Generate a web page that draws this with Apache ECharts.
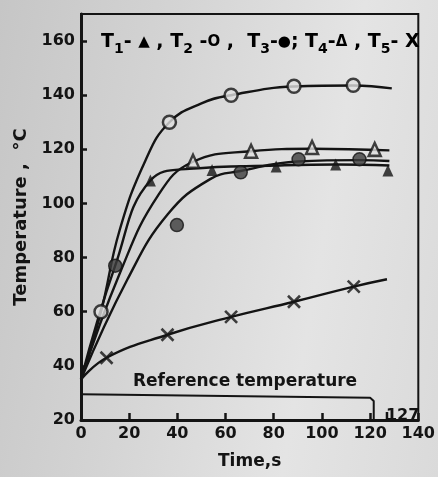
<!DOCTYPE html>
<html>
<head>
<meta charset="utf-8">
<script src="https://cdn.jsdelivr.net/npm/echarts@6/dist/echarts.min.js"></script>
<style>
  html, body { margin: 0; padding: 0; background: #d6d6d6; }
  #chart {
    width: 438px; height: 477px;
    background: linear-gradient(100deg, #c6c6c6 0%, #d4d4d4 35%, #e4e4e4 70%, #dadada 100%);
  }
</style>
</head>
<body>
<div id="chart"></div>
<script>
// Axis tick values
const timeTicks = [0, 20, 40, 60, 80, 100, 120, 140];
const tempTicks = [20, 40, 60, 80, 100, 120, 140, 160];
const tempTop = 170;
const cutoffTime = 127;

// Measured points, [time s, temperature °C]
const t1Points = [[28.8, 108.5], [54.4, 112.4], [81, 113.7], [105.7, 114.4], [127.4, 112.2]];
const t2Points = [[8.3, 60], [36.7, 130], [62.3, 140], [88.4, 143.3], [113, 143.7]];
const t3Points = [[14.2, 77], [39.8, 92], [66.3, 111.5], [90.3, 116.3], [115.6, 116.3]];
const t4Points = [[46.5, 115.6], [70.6, 119.3], [95.9, 120.7], [121.9, 120]];
const t5Points = [[10.6, 43], [35.9, 51.5], [62.3, 58.1], [88.4, 63.7], [113.2, 69.3]];

// Hand-drawn fitted curves
const t1Curve = [[0, 35], [14.2, 77], [28.8, 108.5], [45, 112.8], [81, 114], [106, 114.4], [128, 114]];
const t2Curve = [[0, 35], [8.3, 60], [16, 90], [26.8, 116], [36.7, 130], [50, 137], [62.3, 140],
                 [88.4, 143.2], [113, 143.6], [129, 142.5]];
const t3Curve = [[0, 35], [19.3, 72], [36, 96], [53.6, 109], [66.3, 112], [90, 115.5], [115.6, 116], [128, 115.7]];
const t4Curve = [[0, 35], [16.2, 74.4], [32, 103], [46.5, 115.4], [70.6, 119.3], [96, 120.2], [128, 119.6]];
const t5Curve = [[0, 35], [10.6, 43], [35.9, 51.5], [62.3, 58.1], [88.4, 63.7], [113.2, 69.3], [127, 72]];
const referenceLine = [[0, 29.5], [120, 28.2], [121.5, 27], [121.5, 20]];

const ink = '#141414';
const paper = '#e0e0e0';
const font = 'DejaVu Sans, sans-serif';

function curve(name, data) {
  return {
    name: name, type: 'line', data: data, smooth: 0.45,
    showSymbol: false, silent: true, z: 2,
    lineStyle: { color: ink, width: 2.4 }
  };
}
function marks(name, data, symbol, size, style) {
  return {
    name: name, type: 'scatter', data: data, symbol: symbol, symbolSize: size,
    z: 5, itemStyle: style
  };
}

const chart = echarts.init(document.getElementById('chart'), null, { renderer: 'canvas' });

const legendRich = {
  t: { fontFamily: font, fontWeight: 'bold', fontSize: 19, color: ink, lineHeight: 28, verticalAlign: 'middle' },
  s: { fontFamily: font, fontWeight: 'bold', fontSize: 14, color: ink, lineHeight: 17, verticalAlign: 'bottom' },
  m: { fontFamily: font, fontWeight: 'bold', fontSize: 15, color: ink, lineHeight: 28, verticalAlign: 'middle' }
};

chart.setOption({
  backgroundColor: 'transparent',
  animation: false,
  grid: { left: 81, right: 8, top: 14, bottom: 57, show: true, borderColor: ink, borderWidth: 2, backgroundColor: 'transparent' },
  xAxis: {
    type: 'value',
    min: timeTicks[0], max: timeTicks[timeTicks.length - 1], interval: timeTicks[1] - timeTicks[0],
    name: 'Time,s', nameLocation: 'middle', nameGap: 33,
    nameTextStyle: { fontFamily: font, fontWeight: 'bold', fontSize: 17, color: ink },
    axisLine: { show: true, lineStyle: { color: ink, width: 3 } },
    axisTick: { show: true, inside: true, length: 7, lineStyle: { color: ink, width: 2.5 } },
    axisLabel: { fontFamily: font, fontWeight: 'bold', fontSize: 16, color: ink, margin: 6 },
    splitLine: { show: false }
  },
  yAxis: {
    type: 'value',
    min: tempTicks[0], max: tempTop, interval: tempTicks[1] - tempTicks[0],
    name: 'Temperature ,  °C', nameLocation: 'middle', nameGap: 51,
    nameTextStyle: { fontFamily: font, fontWeight: 'bold', fontSize: 18, color: ink },
    axisLine: { show: true, lineStyle: { color: ink, width: 3 } },
    axisTick: { show: true, inside: true, length: 6, lineStyle: { color: ink, width: 2.5 } },
    axisLabel: { fontFamily: font, fontWeight: 'bold', fontSize: 16, color: ink, margin: 6, showMaxLabel: false },
    splitLine: { show: false }
  },
  graphic: [
    {
      type: 'text', left: 101, top: 33, z: 10,
      style: {
        text: '{t|T}{s|1}{t|- }{m|▲}{t| , T}{s|2}{t| -}{m|O}{t| ,  T}{s|3}{t|-}{m|●}{t|; T}{s|4}{t|-}{m|Δ}{t| , T}{s|5}{t|- X}',
        rich: legendRich
      }
    },
    {
      type: 'text', left: 133, top: 373, z: 10,
      style: { text: 'Reference temperature', fontFamily: font, fontWeight: 'bold', fontSize: 17, fill: ink }
    }
  ],
  series: [
    curve('T1', t1Curve),
    curve('T2', t2Curve),
    curve('T3', t3Curve),
    curve('T4', t4Curve),
    curve('T5', t5Curve),
    {
      name: 'Reference temperature', type: 'line', data: referenceLine, showSymbol: false, silent: true,
      lineStyle: { color: ink, width: 2 }, z: 2
    },
    {
      name: 'Cutoff', type: 'line', showSymbol: false, silent: true, z: 3,
      data: [[cutoffTime, tempTicks[0]], [cutoffTime, tempTicks[0] + 3]],
      lineStyle: { color: ink, width: 2.5 },
      endLabel: {
        show: true, formatter: String(cutoffTime), fontFamily: font, fontWeight: 'bold',
        fontSize: 16, color: ink, offset: [-9, 4]
      }
    },
    marks('T1 points', t1Points, 'triangle', [11, 12], { color: ink }),
    marks('T2 points', t2Points, 'circle', 13, { color: paper, borderColor: ink, borderWidth: 2.5 }),
    marks('T3 points', t3Points, 'circle', 13, { color: '#3c3c3c', borderColor: ink, borderWidth: 1.5 }),
    marks('T4 points', t4Points, 'triangle', [12, 13], { color: paper, borderColor: ink, borderWidth: 2.5 }),
    marks('T5 points', t5Points, 'path://M0,0L10,10M10,0L0,10', 12, { color: 'transparent', borderColor: ink, borderWidth: 2.6 })
  ]
});
</script>
</body>
</html>
